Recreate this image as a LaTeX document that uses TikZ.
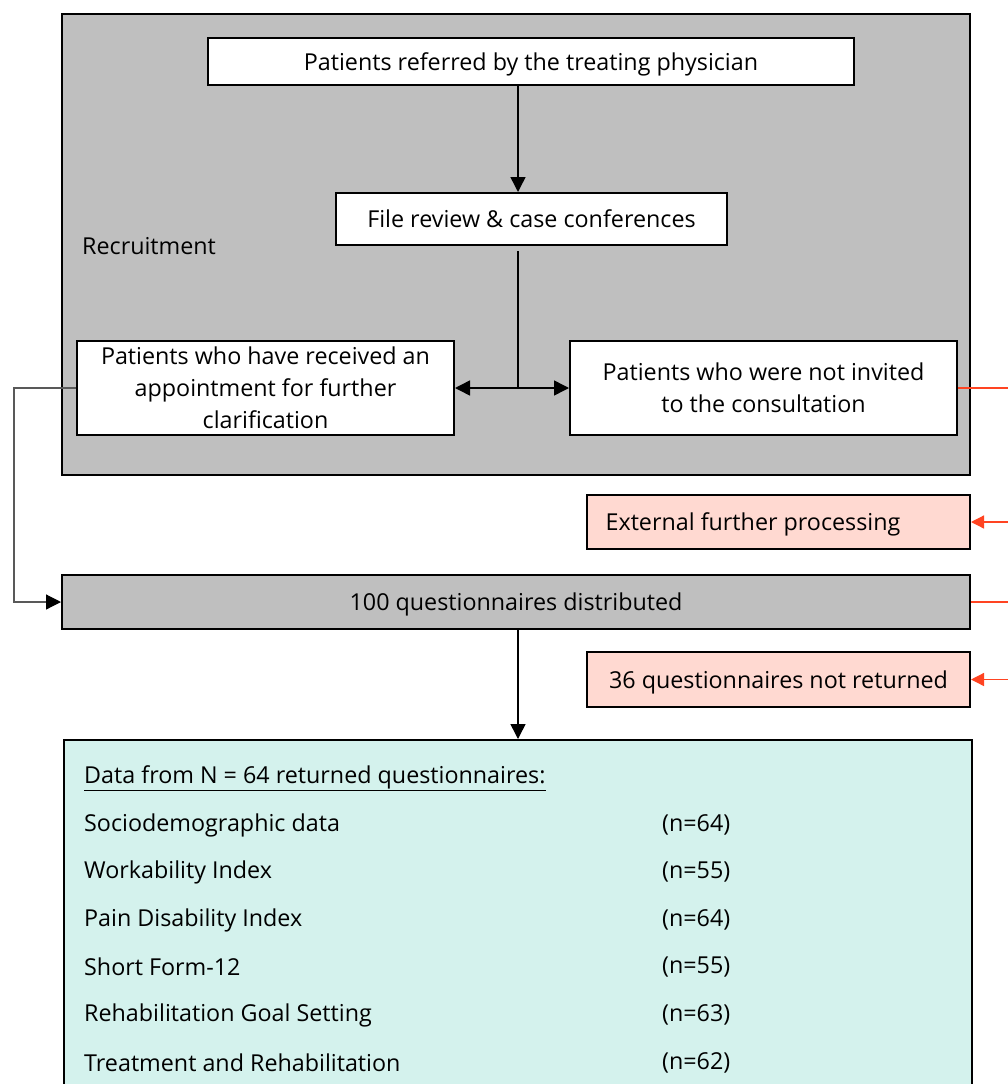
\documentclass[tikz,border=0pt]{standalone}
\usepackage{fontspec}
\setmainfont{Open Sans}
\usetikzlibrary{arrows.meta,calc}
\definecolor{boxgray}{HTML}{BFBFBF}
\definecolor{boxpink}{HTML}{FFD9D1}
\definecolor{boxteal}{HTML}{D4F2ED}
\definecolor{linered}{HTML}{FF4422}
\tikzset{
  every node/.style={font=\fontsize{23.3}{32}\selectfont},
  whitebox/.style={draw=black, line width=2pt, fill=white, inner sep=0pt, align=center},
  graybox/.style={draw=black, line width=2pt, fill=boxgray, inner sep=0pt, align=center},
  pinkbox/.style={draw=black, line width=2pt, fill=boxpink, inner sep=0pt, align=center},
  tealbox/.style={draw=black, line width=2pt, fill=boxteal, inner sep=0pt},
  oneline/.style={text depth=0pt},
  blackarrow/.style={line width=1.5pt, -{Triangle[length=15pt,width=15pt]}},
  redline/.style={draw=linered, line width=1.3pt},
  redarrow/.style={draw=linered, line width=1.3pt, -{Triangle[length=13pt,width=13pt]}, linered},
  itemtext/.style={anchor=west, inner sep=0pt},
}
\begin{document}
\begin{tikzpicture}[x=1pt,y=-1pt]
\clip (0,0) rectangle (1008,1084);
\fill[white] (0,0) rectangle (1008,1084);

% recruitment panel
\node[graybox, minimum width=908pt, minimum height=461pt] (rec) at (516,244.5) {};
\node[itemtext] (reclabel) at (82,246) {Recruitment};

\node[whitebox, oneline, minimum width=646pt, minimum height=47pt] (top) at (531,61.5) {Patients referred by the treating physician};
\node[whitebox, minimum width=391pt, minimum height=52pt] (file) at (531.5,219) {File review \& case conferences};
\node[whitebox, minimum width=377pt, minimum height=94pt] (left) at (265.5,388) {Patients who have received an\\appointment for further\\clarification};
\node[whitebox, minimum width=387pt, minimum height=94pt] (right) at (763.5,388) {Patients who were not invited\\to the consultation};

\node[pinkbox, oneline, minimum width=383pt, minimum height=54pt] (ext) at (778.5,522) {\hspace*{-51pt}External further processing};
\node[graybox, oneline, minimum width=908pt, minimum height=54pt] (dist) at (516,602) {100 questionnaires distributed};
\node[pinkbox, oneline, minimum width=383pt, minimum height=55pt] (notret) at (778.5,679.5) {36 questionnaires not returned};

\node[tealbox, minimum width=908pt, minimum height=370pt] (data) at (518,925) {};

% items
\node[itemtext] (h) at (84,778) {\underline{Data from N = 64 returned questionnaires:}};
\node[itemtext] (i1) at (84,825) {Sociodemographic data};
\node[itemtext] (i2) at (84,872) {Workability Index};
\node[itemtext] (i3) at (84,920) {Pain Disability Index};
\node[itemtext] (i4) at (84,967) {Short Form-12};
\node[itemtext] (i5) at (84,1015) {Rehabilitation Goal Setting};
\node[itemtext] (i6) at (84,1063) {Treatment and Rehabilitation};
\node[itemtext] (n1) at (662,825) {(n=64)};
\node[itemtext] (n2) at (662,872) {(n=55)};
\node[itemtext] (n3) at (662,920) {(n=64)};
\node[itemtext] (n4) at (662,967) {(n=55)};
\node[itemtext] (n5) at (662,1015) {(n=63)};
\node[itemtext] (n6) at (662,1063) {(n=62)};

% black connectors
\draw[blackarrow] (top.south -| data.north) -- (file.north -| data.north);
\coordinate (j) at (data.north |- left.east);
\draw[line width=1.5pt] ($(file.south -| data.north)+(0,5)$) -- (j);
\draw[blackarrow] (j) -- (left.east);
\draw[blackarrow] (j) -- (right.west);
\draw[blackarrow] (dist.south -| data.north) -- (data.north);
\coordinate (lx) at (14,388);
\draw[line width=1.2pt, draw=black!65, -{Triangle[length=15pt,width=15pt,color=black]}] (left.west) -- (lx) |- (dist.west);

% red connectors to the right edge
\coordinate (edge) at (1008,0);
\coordinate (r1) at (right.east -| edge);
\coordinate (r2) at (ext.east -| edge);
\coordinate (r3) at (dist.east -| edge);
\coordinate (r4) at (notret.east -| edge);
\draw[redline] (right.east) -- (r1);
\draw[redarrow] (r2) -- (ext.east);
\draw[redline] (dist.east) -- (r3);
\draw[redarrow] (r4) -- (notret.east);
\end{tikzpicture}
\end{document}
